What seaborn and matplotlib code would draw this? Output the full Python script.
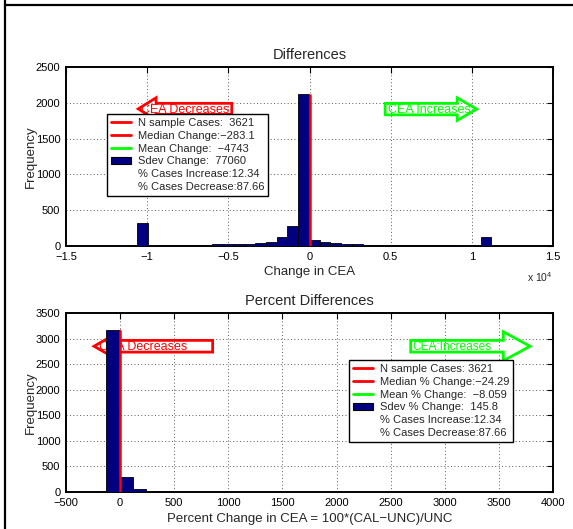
import numpy as np
import pandas as pd
import matplotlib
matplotlib.use("Agg")
import matplotlib.pyplot as plt
import seaborn as sns
from matplotlib.patches import FancyArrow, Patch
from matplotlib.lines import Line2D
from matplotlib.ticker import FuncFormatter, MultipleLocator

# ---------------- data ----------------
# Top histogram: change in CEA (raw units), 33 equal bins
diff_range = (-10635, 11211)
diff_counts = [323, 6, 14, 17, 18, 19, 20, 21, 23, 26, 33, 42, 56, 122, 276,
               2125, 89, 51, 37, 28, 21, 19, 18, 17, 17, 8, 16, 8, 8, 15, 5, 5, 122]
diff_legend = ["N sample Cases:  3621", "Median Change:\u2212283.1",
               "Mean Change:  \u22124743", "Sdev Change:  77060",
               "% Cases Increase:12.34", "% Cases Decrease:87.66"]

# Bottom histogram: percent change, 35 equal bins
pct_range = (-500, 3805)
pct_counts = [2, 2, 4, 3165, 290, 62, 25, 18, 8, 6,
              5, 4, 3, 3, 2, 2, 2, 1, 1, 1,
              1, 1, 1, 1, 0, 1, 0, 1, 0, 0,
              1, 0, 0, 0, 1]
pct_legend = ["N sample Cases: 3621", "Median % Change:\u221224.29",
              "Mean % Change:  \u22128.059", "Sdev % Change:  145.8",
              "% Cases Increase:12.34", "% Cases Decrease:87.66"]

diff_edges = [float(v) for v in np.linspace(diff_range[0], diff_range[1], len(diff_counts) + 1)]
diff_centers = [(a + b) / 2 for a, b in zip(diff_edges[:-1], diff_edges[1:])]
pct_edges = [float(v) for v in np.linspace(pct_range[0], pct_range[1], len(pct_counts) + 1)]
pct_centers = [(a + b) / 2 for a, b in zip(pct_edges[:-1], pct_edges[1:])]

df_diff = pd.DataFrame({"x": diff_centers, "w": diff_counts})
df_pct = pd.DataFrame({"x": pct_centers, "w": pct_counts})

# ---------------- style ----------------
sns.set_theme(style="white")
plt.rcParams["font.family"] = ["Liberation Sans", "DejaVu Sans"]
plt.rcParams["mathtext.fontset"] = "custom"
plt.rcParams["mathtext.rm"] = "Liberation Sans"
plt.rcParams["axes.unicode_minus"] = True

NAVY = "#000080"
RED = "#ff0000"
GREEN = "#00ff00"

fig = plt.figure(figsize=(5.73, 5.29), dpi=100)
ax1 = fig.add_axes([66 / 573, 1 - 246 / 529, 487 / 573, 179 / 529])
ax2 = fig.add_axes([66 / 573, 1 - 492 / 529, 487 / 573, 179 / 529])


def fmt(v, pos, scale=1.0):
    s = "%g" % (v / scale)
    return s.replace("-", "\u2212")


def style(ax):
    ax.set_axisbelow(True)
    ax.grid(True, color="0.35", linestyle=(0, (1, 2.5)), linewidth=0.7)
    for s in ax.spines.values():
        s.set_visible(True)
        s.set_linewidth(1.4)
        s.set_color("black")
    ax.tick_params(direction="in", top=True, right=True, length=4, width=0.8,
                   labelsize=8, pad=4, colors="black")


def add_legend(ax, labels, anchor):
    handles = [Line2D([], [], color=RED, lw=2),
               Line2D([], [], color=RED, lw=2),
               Line2D([], [], color=GREEN, lw=2),
               Patch(facecolor=NAVY, edgecolor="black", lw=0.8),
               Line2D([], [], ls="none"),
               Line2D([], [], ls="none")]
    leg = ax.legend(handles, labels, loc="upper left", bbox_to_anchor=anchor,
                    borderaxespad=0, fontsize=8, frameon=True, fancybox=False,
                    edgecolor="black", framealpha=1, labelspacing=0.25,
                    handlelength=1.8, handletextpad=0.6, borderpad=0.35)
    leg.get_frame().set_linewidth(1.0)
    leg.set_zorder(10)


# ---------------- top: Differences ----------------
sns.histplot(data=df_diff, x="x", weights="w", bins=diff_edges, ax=ax1,
             color=NAVY, edgecolor="black", linewidth=0.6, alpha=1, zorder=3)
ax1.set_xlim(-15000, 15000)
ax1.set_ylim(0, 2500)
ax1.xaxis.set_major_locator(MultipleLocator(5000))
ax1.yaxis.set_major_locator(MultipleLocator(500))
ax1.xaxis.set_major_formatter(FuncFormatter(lambda v, p: fmt(v, p, 1e4)))
ax1.yaxis.set_major_formatter(FuncFormatter(fmt))
style(ax1)
ax1.set_title("Differences", fontsize=10.5, pad=6)
ax1.set_xlabel("Change in CEA", fontsize=9.5, labelpad=3.5)
ax1.set_ylabel("Frequency", fontsize=9.5, labelpad=-0.5)
ax1.text(1.0, -0.175, "x 10$^{4}$", transform=ax1.transAxes, ha="right",
         va="center", fontsize=7.5)
ax1.vlines(0, 0, max(diff_counts), color=RED, lw=1.8, zorder=4)

ax1.add_patch(FancyArrow(-4790, 1915, -5760, 0, width=155, head_width=310,
                         head_length=1100, length_includes_head=True,
                         fill=False, edgecolor=RED, lw=2, zorder=2))
ax1.text(-10350, 1905, "CEA Decreases", color=RED, fontsize=9, ha="left",
         va="center", zorder=2)
ax1.add_patch(FancyArrow(4660, 1912, 5640, 0, width=160, head_width=315,
                         head_length=1200, length_includes_head=True,
                         fill=False, edgecolor=GREEN, lw=2, zorder=2))
ax1.text(4840, 1902, "CEA Increases", color=GREEN, fontsize=9, ha="left",
         va="center", zorder=2)
add_legend(ax1, diff_legend, (0.085, 0.737))

# ---------------- bottom: Percent Differences ----------------
sns.histplot(data=df_pct, x="x", weights="w", bins=pct_edges, ax=ax2,
             color=NAVY, edgecolor="black", linewidth=0.6, alpha=1, zorder=3)
ax2.set_xlim(-500, 4000)
ax2.set_ylim(0, 3500)
ax2.xaxis.set_major_locator(MultipleLocator(500))
ax2.yaxis.set_major_locator(MultipleLocator(500))
ax2.xaxis.set_major_formatter(FuncFormatter(fmt))
ax2.yaxis.set_major_formatter(FuncFormatter(fmt))
style(ax2)
ax2.set_title("Percent Differences", fontsize=10.5, pad=6)
ax2.set_xlabel("Percent Change in CEA = 100*(CAL\u2212UNC)/UNC", fontsize=9.5,
               labelpad=4)
ax2.set_ylabel("Frequency", fontsize=9.5, labelpad=-0.5)
ax2.vlines(0, 0, max(pct_counts), color=RED, lw=1.8, zorder=4)

ax2.add_patch(FancyArrow(855, 2850, -1096, 0, width=229, head_width=567,
                         head_length=235, length_includes_head=True,
                         fill=False, edgecolor=RED, lw=2, zorder=2))
ax2.text(-195, 2835, "CEA Decreases", color=RED, fontsize=9, ha="left",
         va="center", zorder=2)
ax2.add_patch(FancyArrow(2685, 2850, 1103, 0, width=229, head_width=567,
                         head_length=247, length_includes_head=True,
                         fill=False, edgecolor=GREEN, lw=2, zorder=2))
ax2.text(2704, 2835, "CEA:Increases", color=GREEN, fontsize=8.6, ha="left",
         va="center", zorder=2)
add_legend(ax2, pct_legend, (0.582, 0.737))

# figure border lines (top and left)
fig.add_artist(Line2D([5 / 573, 1], [1 - 5 / 529, 1 - 5 / 529],
                      transform=fig.transFigure, color="black", lw=1.6))
fig.add_artist(Line2D([5 / 573, 5 / 573], [0, 1],
                      transform=fig.transFigure, color="black", lw=1.6))

fig.savefig("out.png", dpi=100)
